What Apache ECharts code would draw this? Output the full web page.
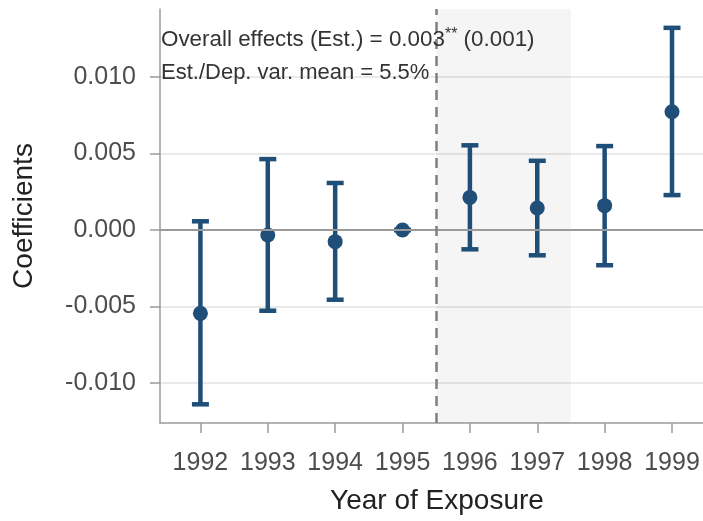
<!DOCTYPE html>
<html><head><meta charset="utf-8">
<script src="https://cdn.jsdelivr.net/npm/echarts@6/dist/echarts.min.js"></script>
<style>html,body{margin:0;padding:0;background:#fff}#c{width:703px;height:521px}</style>
</head><body><div id="c"></div>
<script>
const years = [1992, 1993, 1994, 1995, 1996, 1997, 1998, 1999];
const estimates = [-0.00544, -0.00033, -0.00076, 0.0, 0.00213, 0.00144, 0.00159, 0.00772];
const lowerCI = [-0.01138, -0.00527, -0.00455, 0.0, -0.00126, -0.00165, -0.00230, 0.00228];
const upperCI = [0.00057, 0.00463, 0.00307, 0.0, 0.00553, 0.00452, 0.00548, 0.01320];
const yTicks = [-0.010, -0.005, 0.000, 0.005, 0.010];
const treatLine = 1995.5;
const shadeEnd = 1997.5;
const noteLine1 = ['Overall effects (Est.) = 0.003', '**', ' (0.001)'];
const noteLine2 = 'Est./Dep. var. mean = 5.5%';

const col = '#1f4e79';
const FONT = '"Liberation Sans", Arial, sans-serif';
const chart = echarts.init(document.getElementById('c'), null, {renderer: 'canvas'});

const barData = years.map((y, i) => [y, lowerCI[i], upperCI[i]]);
const ptData = years.map((y, i) => [y, estimates[i]]);

chart.setOption({
  animation: false,
  backgroundColor: '#fff',
  grid: {left: 160, right: 0, top: 9, bottom: 98, containLabel: false},
  xAxis: {
    type: 'value', min: 1991.4, max: 1999.46,
    name: 'Year of Exposure', nameLocation: 'middle', nameGap: 64,
    nameTextStyle: {fontFamily: FONT, fontSize: 28, color: '#222', padding: [0, 0, 0, 11]},
    axisLine: {show: true, onZero: false, lineStyle: {color: '#9a9a9a', width: 1.5}},
    axisTick: {show: true, length: 10, customValues: years, lineStyle: {color: '#9a9a9a', width: 1.5}},
    axisLabel: {customValues: years, margin: 28, fontFamily: FONT, fontSize: 25, color: '#4d4d4d',
      formatter: v => String(Math.round(v))},
    splitLine: {show: false}
  },
  yAxis: {
    type: 'value', min: -0.0126, max: 0.01443,
    name: 'Coefficients', nameLocation: 'middle', nameGap: 122, nameRotate: 90,
    nameTextStyle: {fontFamily: FONT, fontSize: 28, color: '#222'},
    axisLine: {show: true, onZero: false, lineStyle: {color: '#9a9a9a', width: 1.5}},
    axisTick: {show: true, length: 10, customValues: yTicks, lineStyle: {color: '#9a9a9a', width: 1.5}},
    axisLabel: {customValues: yTicks, margin: 24, fontFamily: FONT, fontSize: 25, color: '#4d4d4d',
      formatter: v => v.toFixed(3)},
    splitLine: {show: true, lineStyle: {color: '#e3e3e3', width: 1.5}}
  },
  series: [
    {
      type: 'custom',
      data: barData,
      encode: {x: 0, y: [1, 2]},
      z: 3,
      renderItem: (params, api) => {
        const x = api.value(0), lo = api.value(1), hi = api.value(2);
        const a = api.coord([x, lo]), b = api.coord([x, hi]);
        const hw = 8.5;
        const st = {stroke: col, lineWidth: 4.5, fill: null};
        return {type: 'group', children: [
          {type: 'line', shape: {x1: a[0], y1: a[1], x2: b[0], y2: b[1]}, style: st},
          {type: 'line', shape: {x1: a[0] - hw, y1: a[1], x2: a[0] + hw, y2: a[1]}, style: st},
          {type: 'line', shape: {x1: b[0] - hw, y1: b[1], x2: b[0] + hw, y2: b[1]}, style: st}
        ]};
      },
      markArea: {
        silent: true,
        itemStyle: {color: 'rgba(0,0,0,0.04)'},
        data: [[{xAxis: treatLine}, {xAxis: shadeEnd}]]
      },
      markLine: {
        silent: true, symbol: 'none', label: {show: false},
        data: [
          {yAxis: 0, lineStyle: {color: '#9a9a9a', type: 'solid', width: 1.8}},
          {xAxis: treatLine, lineStyle: {color: '#808080', type: [10, 7], width: 2.5}}
        ]
      }
    },
    {
      type: 'scatter', data: ptData, symbol: 'circle', symbolSize: 15, z: 4,
      itemStyle: {color: col, opacity: 1}
    }
  ],
  graphic: [
    {type: 'text', left: 161, top: 27, z: 10, style: {
      text: '{a|' + noteLine1[0] + '}{s|' + noteLine1[1] + '}{a|' + noteLine1[2] + '}',
      rich: {
        a: {fontFamily: FONT, fontSize: 22.4, fill: '#333', lineHeight: 26},
        s: {fontFamily: FONT, fontSize: 16, fill: '#333', verticalAlign: 'top', lineHeight: 26}
      }
    }},
    {type: 'text', left: 161, top: 62, z: 10, style: {
      text: noteLine2, font: '22px ' + FONT, fill: '#333'
    }}
  ]
});
</script></body></html>
